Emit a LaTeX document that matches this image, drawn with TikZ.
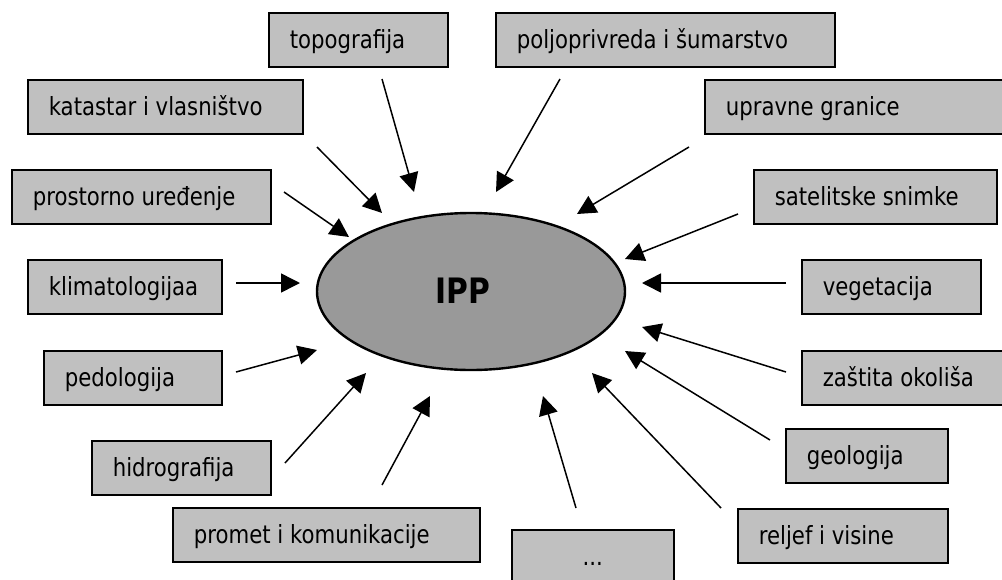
\documentclass[tikz,border=0pt]{standalone}
\usepackage{fontspec}
\setmainfont{DejaVu Sans}[FakeStretch=0.85]
\usetikzlibrary{arrows.meta,shapes.geometric}
\definecolor{boxgray}{HTML}{C0C0C0}
\definecolor{ellgray}{HTML}{999999}
\tikzset{
  box/.style={draw=black, fill=boxgray, line width=1.6pt, rectangle, inner xsep=0pt, inner ysep=0pt,
    text height=20pt, text depth=2pt, font=\fontsize{25}{28}\selectfont},
  feed/.style={line width=1.5pt, -{Triangle[length=19pt,width=19pt]}},
}
\newcommand\mybox[6]{\node[box, minimum height=#5pt, anchor=north west] (#1) at (#2,#3) {\hbox to #4pt{\hskip21pt #6\hss}};}
\begin{document}
\begin{tikzpicture}[x=1pt,y=-1pt]
\useasboundingbox (0,0) rectangle (1002,579);
% central ellipse
\node[draw=black, fill=ellgray, line width=2.4pt, ellipse, minimum width=308pt, minimum height=157pt, inner sep=0pt] (ipp) at (471,291.5) {};
\node[anchor=base, font=\fontsize{35}{36}\selectfont\bfseries] (ipplabel) at (463,303) {IPP};
% boxes
\mybox{topo}{268}{12}{179}{54}{topografija}
\mybox{polj}{495}{12}{339}{54}{poljoprivreda i šumarstvo}
\mybox{kat}{27}{79}{275}{54}{katastar i vlasništvo}
\mybox{upr}{704}{79}{320}{54}{upravne granice}
\mybox{pros}{11}{169}{259}{54}{prostorno uređenje}
\mybox{sat}{753}{169}{243}{54}{satelitske snimke}
\mybox{klim}{27}{259}{194}{54}{klimatologijaa}
\mybox{veg}{801}{259}{179}{54}{vegetacija}
\mybox{ped}{43}{350}{178}{54}{pedologija}
\mybox{zas}{801}{350}{220}{54}{zaštita okoliša}
\mybox{hid}{91}{440}{179}{54}{hidrografija}
\mybox{geo}{785}{428}{162}{54}{geologija}
\mybox{prom}{172}{507}{307}{54}{promet i komunikacije}
\mybox{rel}{737}{508}{210}{54}{reljef i visine}
\node[box, minimum height=54pt, anchor=north west] (dots) at (511,529) {\hbox to 162pt{\hss...\hss}};
% arrow end points
\coordinate (s1) at (382,79);  \coordinate (t1) at (414,192);
\coordinate (s2) at (560,79);  \coordinate (t2) at (496,192);
\coordinate (s3) at (317,147); \coordinate (t3) at (382,213);
\coordinate (s4) at (689,147); \coordinate (t4) at (577,214);
\coordinate (s5) at (284,192); \coordinate (t5) at (349,237);
\coordinate (s6) at (738,214); \coordinate (t6) at (625,259);
\coordinate (s7) at (236,283); \coordinate (t7) at (300,283);
\coordinate (s8) at (786,283); \coordinate (t8) at (642,283);
\coordinate (s9) at (236,372); \coordinate (t9) at (317,350);
\coordinate (s10) at (786,372); \coordinate (t10) at (642,327);
\coordinate (s11) at (285,463); \coordinate (t11) at (366,373);
\coordinate (s12) at (770,440); \coordinate (t12) at (625,351);
\coordinate (s13) at (382,485); \coordinate (t13) at (430,396);
\coordinate (s14) at (721,508); \coordinate (t14) at (592,373);
\coordinate (s15) at (576,508); \coordinate (t15) at (543,396);
\foreach \i in {1,...,15} { \draw[feed] (s\i) -- (t\i); }
\end{tikzpicture}
\end{document}
